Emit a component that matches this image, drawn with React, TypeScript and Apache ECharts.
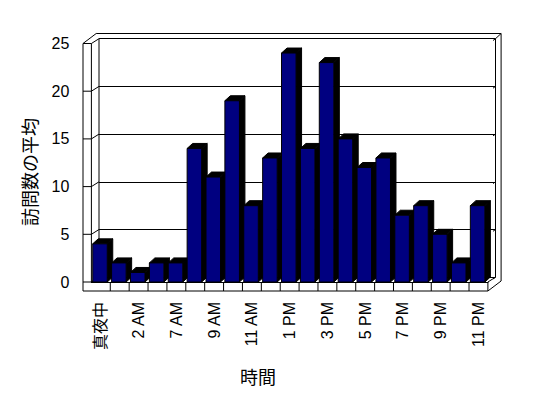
import React, { useEffect, useRef } from "react";
import * as echarts from "echarts";

const categories = [
  "真夜中", "1 AM", "2 AM", "6 AM", "7 AM", "8 AM", "9 AM", "10 AM", "11 AM", "正午",
  "1 PM", "2 PM", "3 PM", "4 PM", "5 PM", "6 PM", "7 PM", "8 PM", "9 PM", "10 PM", "11 PM",
];
const visits = [4, 2, 1, 2, 2, 14, 11, 19, 8, 13, 24, 14, 23, 15, 12, 13, 7, 8, 5, 2, 8];
const yTicks = [0, 5, 10, 15, 20, 25];
const yTitle = "訪問数の平均";
const xTitle = "時間";

const W = 548;
const H = 398;
// front plane of the 3D box
const FL = 91.4;
const FR = 487.9;
const FT = 43.5;
const FB = 282;
// inner depth (front plane -> back wall)
const DX = 7.6;
const DY = -4.8;
// outer depth (silhouette)
const ODX = 13.2;
const ODY = -10;
const WALL = 8.4;
const FLOOR = 9;
const BAR_DX = 5.5;
const BAR_DY = -5;
const FONT = "'Liberation Sans', 'Noto Sans CJK JP', Arial, sans-serif";

export default function App() {
  const ref = useRef<HTMLDivElement>(null);
  useEffect(() => {
    document.body.style.margin = "0";
    const chart = echarts.init(ref.current!, null, { renderer: "svg" });
    const yMin = yTicks[0];
    const yMax = yTicks[yTicks.length - 1];
    const step = yTicks[1] - yTicks[0];
    chart.setOption({
      animation: false,
      backgroundColor: "#fff",
      grid: [
        { left: FL, right: W - FR, top: FT, bottom: H - FB, containLabel: false },
        { left: FL + DX, right: W - FR - DX, top: FT + DY, bottom: H - FB - DY, containLabel: false },
      ],
      xAxis: [
        {
          type: "category",
          gridIndex: 0,
          data: categories,
          boundaryGap: true,
          axisLine: { show: true, lineStyle: { color: "#000", width: 1 } },
          axisTick: { show: false },
          axisLabel: {
            interval: 1,
            rotate: 90,
            margin: 20,
            fontSize: 16,
            color: "#000",
            fontFamily: FONT,
          },
          splitLine: { show: false },
        },
        {
          type: "category",
          gridIndex: 1,
          data: categories,
          show: false,
        },
      ],
      yAxis: [
        {
          type: "value",
          gridIndex: 0,
          min: yMin,
          max: yMax,
          interval: step,
          axisLine: { show: false },
          axisTick: { show: false },
          splitLine: { show: false },
          axisLabel: { margin: 22, fontSize: 16, color: "#000", fontFamily: FONT },
        },
        {
          type: "value",
          gridIndex: 1,
          min: yMin,
          max: yMax,
          interval: step,
          axisLine: { show: false },
          axisTick: { show: false },
          axisLabel: { show: false },
          splitLine: { show: true, lineStyle: { color: "#000", width: 1 } },
        },
      ],
      series: [
        {
          type: "custom",
          xAxisIndex: 0,
          yAxisIndex: 0,
          z: 5,
          data: visits.map((v, i) => [i, v]),
          encode: { x: 0, y: 1 },
          renderItem: (params: any, api: any) => {
            const idx = api.value(0);
            const v = api.value(1);
            const top = api.coord([idx, v]);
            const base = api.coord([idx, 0]);
            const band = api.size([1, 0])[0];
            const fx = top[0] - band / 2 + band * 0.07;
            const fw = band * 0.77;
            const ty = top[1];
            const by = base[1];
            return {
              type: "group",
              children: [
                {
                  type: "polygon",
                  shape: {
                    points: [
                      [fx + fw, ty],
                      [fx + fw + BAR_DX, ty + BAR_DY],
                      [fx + fw + BAR_DX, by + BAR_DY],
                      [fx + fw, by],
                    ],
                  },
                  style: { fill: "#000", stroke: "#000", lineWidth: 1 },
                },
                {
                  type: "polygon",
                  shape: {
                    points: [
                      [fx, ty],
                      [fx + BAR_DX, ty + BAR_DY],
                      [fx + fw + BAR_DX, ty + BAR_DY],
                      [fx + fw, ty],
                    ],
                  },
                  style: { fill: "#000", stroke: "#000", lineWidth: 1 },
                },
                {
                  type: "rect",
                  shape: { x: fx, y: ty, width: fw, height: by - ty },
                  style: { fill: "#000080", stroke: "#000", lineWidth: 1 },
                },
              ],
            };
          },
        },
      ],
    });

    // frame built from the axes' own pixel positions
    const px = (i: number) => chart.convertToPixel({ xAxisIndex: 0 }, i) as number;
    const pyF = (v: number) => chart.convertToPixel({ yAxisIndex: 0 }, v) as number;
    const pyB = (v: number) => chart.convertToPixel({ yAxisIndex: 1 }, v) as number;
    const band = px(1) - px(0);
    const left = px(0) - band / 2;
    const right = px(categories.length - 1) + band / 2;
    const top = pyF(yMax);
    const bottom = pyF(yMin);
    const backTop = pyB(yMax);
    const backBottom = pyB(yMin);
    const ls = { stroke: "#000", lineWidth: 1, fill: "none" };
    const g: any[] = [];
    const line = (pts: number[][]) =>
      g.push({ type: "polyline", shape: { points: pts }, style: ls, z: 1, silent: true });

    // silhouette
    line([
      [left - WALL, bottom + FLOOR],
      [left - WALL, top],
      [left - WALL + ODX, top + ODY],
      [right + ODX, top + ODY],
      [right + ODX, bottom + FLOOR + ODY],
      [right, bottom + FLOOR],
      [left - WALL, bottom + FLOOR],
    ]);
    // left wall inner front edge
    line([[left, top], [left, bottom]]);
    // back wall edges
    line([[left + DX, backTop], [left + DX, backBottom]]);
    line([[right + DX, backTop], [right + DX, backBottom]]);
    line([[right + DX, backTop], [right + ODX, top + ODY]]);
    // floor edges
    line([[right, bottom], [right, bottom + FLOOR]]);
    line([[right, bottom], [right + DX, backBottom]]);
    line([[left, bottom], [left + DX, backBottom]]);
    // gridline connectors across the left wall
    yTicks.forEach((v) => {
      line([[left - WALL, pyF(v)], [left, pyF(v)], [left + DX, pyB(v)]]);
      line([[right + DX - 2.5, pyB(v) + 1.8], [right + DX, pyB(v)]]);
    });
    // category ticks on floor front face
    for (let i = 1; i < categories.length; i++) {
      const x = px(i) - band / 2;
      line([[x, bottom], [x, bottom + FLOOR]]);
    }
    // titles
    g.push({
      type: "text",
      x: 258,
      y: 378,
      style: {
        text: xTitle,
        fontSize: 18,
        fontFamily: FONT,
        fill: "#000",
        align: "center",
        verticalAlign: "middle",
      },
    });
    g.push({
      type: "text",
      x: 31,
      y: 172,
      rotation: Math.PI / 2,
      style: {
        text: yTitle,
        fontSize: 18,
        fontFamily: FONT,
        fill: "#000",
        align: "center",
        verticalAlign: "middle",
      },
    });
    chart.setOption({ graphic: g });

    return () => chart.dispose();
  }, []);
  return <div ref={ref} style={{ width: W, height: H }} />;
}
